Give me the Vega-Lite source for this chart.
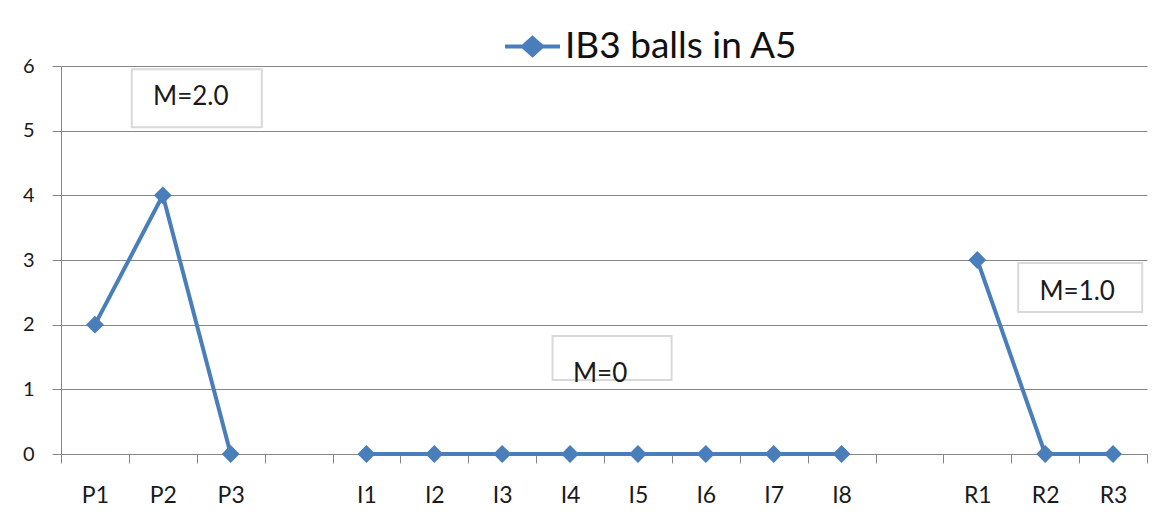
{
  "$schema": "https://vega.github.io/schema/vega-lite/v6.json",
  "width": 1086,
  "height": 388,
  "autosize": {"type": "none"},
  "padding": {"left": 61, "top": 66, "right": 10, "bottom": 71},
  "background": "white",
  "config": {
    "view": {"stroke": null},
    "font": "Lato",
    "axis": {"labelFont": "Lato", "labelColor": "#1a1a1a", "domainColor": "#868686", "tickColor": "#868686", "gridColor": "#868686", "domainWidth": 1, "tickWidth": 1, "gridWidth": 1}
  },
  "datasets": {
    "series": [
      {"cat": "P1", "value": 2, "phase": "P", "series": "IB3 balls in A5"},
      {"cat": "P2", "value": 4, "phase": "P", "series": "IB3 balls in A5"},
      {"cat": "P3", "value": 0, "phase": "P", "series": "IB3 balls in A5"},
      {"cat": "I1", "value": 0, "phase": "I", "series": "IB3 balls in A5"},
      {"cat": "I2", "value": 0, "phase": "I", "series": "IB3 balls in A5"},
      {"cat": "I3", "value": 0, "phase": "I", "series": "IB3 balls in A5"},
      {"cat": "I4", "value": 0, "phase": "I", "series": "IB3 balls in A5"},
      {"cat": "I5", "value": 0, "phase": "I", "series": "IB3 balls in A5"},
      {"cat": "I6", "value": 0, "phase": "I", "series": "IB3 balls in A5"},
      {"cat": "I7", "value": 0, "phase": "I", "series": "IB3 balls in A5"},
      {"cat": "I8", "value": 0, "phase": "I", "series": "IB3 balls in A5"},
      {"cat": "R1", "value": 3, "phase": "R", "series": "IB3 balls in A5"},
      {"cat": "R2", "value": 0, "phase": "R", "series": "IB3 balls in A5"},
      {"cat": "R3", "value": 0, "phase": "R", "series": "IB3 balls in A5"}
    ]
  },
  "encoding": {
    "x": {
      "field": "cat", "type": "nominal", "sort": null,
      "scale": {"type": "band", "domain": ["P1", "P2", "P3", " ", "I1", "I2", "I3", "I4", "I5", "I6", "I7", "I8", "  ", "R1", "R2", "R3"], "paddingInner": 0, "paddingOuter": 0},
      "axis": {"title": null, "tickBand": "extent", "tickSize": 9, "labelAngle": 0, "labelFontSize": 23, "labelPadding": 21, "grid": false}
    },
    "y": {
      "field": "value", "type": "quantitative",
      "scale": {"domain": [0, 6], "nice": false},
      "axis": {"title": null, "values": [0, 1, 2, 3, 4, 5, 6], "tickSize": 9, "labelFontSize": 20, "labelPadding": 18, "grid": true}
    }
  },
  "layer": [
    {
      "data": {"name": "series"},
      "mark": {"type": "line", "strokeWidth": 4},
      "encoding": {
        "detail": {"field": "phase"},
        "color": {
          "field": "series", "type": "nominal",
          "scale": {"range": ["#4A7EBB"]},
          "legend": {
            "title": null, "orient": "none", "legendX": 442, "legendY": -49,
            "symbolType": "M-1,0H1M-0.345,0L0,-0.31L0.345,0L0,0.31Z",
            "symbolSize": 3025, "symbolStrokeWidth": 4,
            "symbolFillColor": "#4A7EBB", "symbolStrokeColor": "#4A7EBB",
            "labelFont": "Lato", "labelFontSize": 37, "labelColor": "#111111", "labelOffset": 3, "labelLimit": 500,
            "encode": {"symbols": {"update": {"fill": {"value": "#4A7EBB"}, "stroke": {"value": "#4A7EBB"}, "strokeWidth": {"value": 4}}}}
          }
        }
      }
    },
    {
      "data": {"name": "series"},
      "mark": {"type": "point", "shape": "diamond", "filled": true, "size": 320, "opacity": 1},
      "encoding": {"color": {"field": "series", "type": "nominal"}}
    },
    {
      "data": {"values": [{"cat": "P2", "value": 5.5, "label": "M=2.0"}]},
      "mark": {"type": "point", "shape": "M-1,-0.446H1V0.446H-1Z", "size": 16900, "filled": false, "fill": "white", "stroke": "#D9D9D9", "strokeWidth": 2, "opacity": 1, "xOffset": 34}
    },
    {
      "data": {"values": [{"cat": "P2", "value": 5.5, "label": "M=2.0"}]},
      "mark": {"type": "text", "fontSize": 26, "font": "Lato", "color": "#1a1a1a", "align": "center", "baseline": "middle", "xOffset": 28, "yOffset": -1},
      "encoding": {"text": {"field": "label"}}
    },
    {
      "data": {"values": [{"cat": "I4", "value": 1.485, "label": "M=0"}]},
      "mark": {"type": "point", "shape": "M-1,-0.37H1V0.37H-1Z", "size": 14161, "filled": false, "fill": "white", "stroke": "#D9D9D9", "strokeWidth": 2, "opacity": 1, "xOffset": 42}
    },
    {
      "data": {"values": [{"cat": "I4", "value": 1.485, "label": "M=0"}]},
      "mark": {"type": "text", "fontSize": 26, "font": "Lato", "color": "#1a1a1a", "align": "center", "baseline": "middle", "xOffset": 30, "yOffset": 16},
      "encoding": {"text": {"field": "label"}}
    },
    {
      "data": {"values": [{"cat": "R2", "value": 2.575, "label": "M=1.0"}]},
      "mark": {"type": "point", "shape": "M-1,-0.395H1V0.395H-1Z", "size": 15376, "filled": false, "fill": "white", "stroke": "#D9D9D9", "strokeWidth": 2, "opacity": 1, "xOffset": 35}
    },
    {
      "data": {"values": [{"cat": "R2", "value": 2.575, "label": "M=1.0"}]},
      "mark": {"type": "text", "fontSize": 26, "font": "Lato", "color": "#1a1a1a", "align": "center", "baseline": "middle", "xOffset": 32, "yOffset": 5},
      "encoding": {"text": {"field": "label"}}
    }
  ]
}
